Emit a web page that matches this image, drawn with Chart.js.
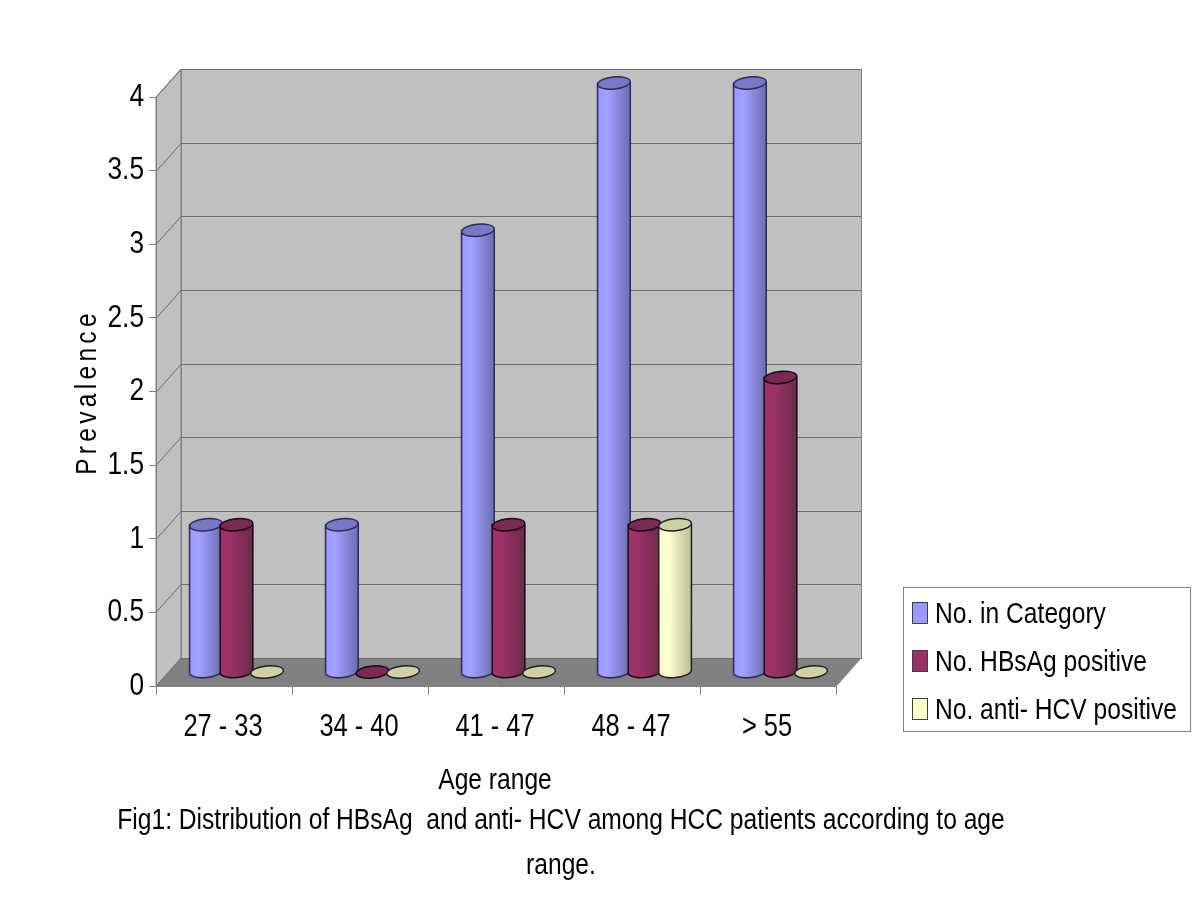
<!DOCTYPE html>
<html>
<head>
<meta charset="utf-8">
<title>Fig1</title>
<script src="https://cdn.jsdelivr.net/npm/chart.js@4/dist/chart.umd.min.js"></script>
<style>
    html, body { margin: 0; padding: 0; background: #fff; }
    canvas { display: block; }
</style>
</head>
<body>
<canvas id="chart" width="1200" height="900"></canvas>
<script>
// Chart values
const ageRanges = ['27 - 33', '34 - 40', '41 - 47', '48 - 47', '> 55'];
const inCategory = [1, 1, 3, 4, 4];
const hbsagPositive = [1, 0, 1, 1, 2];
const antiHcvPositive = [0, 0, 0, 1, 0];
const seriesNames = ['No. in Category', 'No. HBsAg positive', 'No. anti- HCV positive'];
const captionLines = ['Fig1: Distribution of HBsAg  and anti- HCV among HCC patients according to age', 'range.'];

const FONT = '"Liberation Sans", sans-serif';
// The original uses a narrow face, so labels get squeezed by this factor
const NARROW = 0.82;

// Depth of the fake 3D box, back wall is shifted by this much
const DEPTH_X = 25;
const DEPTH_Y = -28;

// Bar shading per series
const shades = [
    { fill: '#9999ff', light: '#a2a2ff', dark: '#6c6cb0', cap: '#7878c4', line: '#2a2a5c' },
    { fill: '#993366', light: '#9c3368', dark: '#6a2a4a', cap: '#7a2952', line: '#1a0a12' },
    { fill: '#ffffcc', light: '#ffffd0', dark: '#bcbc96', cap: '#cfcfa8', line: '#20201a' }
];

function narrowText(ctx, text, x, y) {
    ctx.fillText(text, x, y, ctx.measureText(text).width * NARROW);
}

// Walls and floor go under the axes
function drawBox(chart) {
    const ctx = chart.ctx;
    const area = chart.chartArea;
    const y = chart.scales.y;
    const l = area.left, r = area.right, t = area.top, b = area.bottom;

    ctx.save();
    ctx.lineWidth = 1;
    ctx.strokeStyle = '#808080';

    // side wall
    ctx.fillStyle = '#c0c0c0';
    ctx.beginPath();
    ctx.moveTo(l, t);
    ctx.lineTo(l + DEPTH_X, t + DEPTH_Y);
    ctx.lineTo(l + DEPTH_X, b + DEPTH_Y);
    ctx.lineTo(l, b);
    ctx.closePath();
    ctx.fill();
    ctx.stroke();

    // back wall
    ctx.fillRect(l + DEPTH_X, t + DEPTH_Y, r - l, b - t);
    ctx.strokeRect(l + DEPTH_X + 0.5, t + DEPTH_Y + 0.5, r - l, b - t);

    // floor
    ctx.fillStyle = '#808080';
    ctx.beginPath();
    ctx.moveTo(l, b);
    ctx.lineTo(r, b);
    ctx.lineTo(r + DEPTH_X, b + DEPTH_Y);
    ctx.lineTo(l + DEPTH_X, b + DEPTH_Y);
    ctx.closePath();
    ctx.fill();

    // gridlines run along the side wall and the back wall
    ctx.strokeStyle = '#6e6e6e';
    y.ticks.forEach(tick => {
        const py = Math.round(y.getPixelForValue(tick.value)) + 0.5;
        ctx.beginPath();
        ctx.moveTo(l, py);
        ctx.lineTo(l + DEPTH_X, py + DEPTH_Y);
        ctx.lineTo(r + DEPTH_X, py + DEPTH_Y);
        ctx.stroke();
    });
    ctx.restore();
}

// Turns one bar element into a cylinder
function drawCylinder(ctx, bar, value, shade) {
    const w = bar.width;
    const rx = w / 2;
    const ry = 6;
    const tilt = -0.1;

    ctx.lineWidth = 1.5;
    ctx.strokeStyle = shade.line;

    if (value > 0) {
        const grad = ctx.createLinearGradient(bar.x - rx, 0, bar.x + rx, 0);
        grad.addColorStop(0, shade.fill);
        grad.addColorStop(0.3, shade.light);
        grad.addColorStop(1, shade.dark);
        ctx.fillStyle = grad;
        ctx.beginPath();
        ctx.moveTo(bar.x + rx, bar.y);
        ctx.ellipse(bar.x, bar.base, rx, ry, tilt, 0, Math.PI, false);
        ctx.lineTo(bar.x - rx, bar.y);
        ctx.closePath();
        ctx.fill();
        ctx.stroke();
    }

    // top cap, the only thing left of a zero bar
    ctx.fillStyle = shade.cap;
    ctx.beginPath();
    ctx.ellipse(bar.x, bar.y, rx, ry, tilt, 0, Math.PI * 2);
    ctx.fill();
    ctx.stroke();
}

// Axis labels, title, caption and legend, all in the squeezed face
function drawTexts(chart) {
    const ctx = chart.ctx;
    const x = chart.scales.x;
    const y = chart.scales.y;

    ctx.save();
    ctx.fillStyle = '#000';
    ctx.textBaseline = 'middle';

    ctx.font = '32px ' + FONT;
    ctx.textAlign = 'right';
    y.ticks.forEach(tick => {
        narrowText(ctx, tick.label, 144, y.getPixelForValue(tick.value));
    });

    ctx.font = '31px ' + FONT;
    ctx.textAlign = 'center';
    x.ticks.forEach((tick, i) => {
        narrowText(ctx, tick.label, x.getPixelForTick(i) - 1, 727);
    });

    ctx.font = '30px ' + FONT;
    narrowText(ctx, 'Age range', 495, 781);

    // y title, spaced out like the original
    ctx.save();
    ctx.translate(88, 392);
    ctx.rotate(-Math.PI / 2);
    ctx.scale(NARROW, 1);
    ctx.letterSpacing = '5.2px';
    ctx.fillText('Prevalence', 0, 0);
    ctx.restore();

    // caption
    narrowText(ctx, captionLines[0], 561, 821);
    narrowText(ctx, captionLines[1], 561, 866);

    // legend
    ctx.fillStyle = '#fff';
    ctx.strokeStyle = '#808080';
    ctx.lineWidth = 1;
    ctx.fillRect(903, 587, 287, 144);
    ctx.strokeRect(903.5, 587.5, 287, 144);
    ctx.textAlign = 'left';
    chart.data.datasets.forEach((ds, i) => {
        const cy = 613 + i * 48;
        ctx.fillStyle = ds.backgroundColor;
        ctx.strokeStyle = '#404040';
        ctx.fillRect(912, cy - 11, 15, 21);
        ctx.strokeRect(912.5, cy - 10.5, 15, 21);
        ctx.fillStyle = '#000';
        narrowText(ctx, ds.label, 935, cy + 2);
    });
    ctx.restore();
}

const boxPlugin = {
    id: 'box3d',
    beforeDraw(chart) {
        drawBox(chart);
    },
    beforeDatasetsDraw(chart) {
        // bars stand in the middle of the floor
        chart.ctx.save();
        chart.ctx.translate(DEPTH_X / 2, DEPTH_Y / 2);
    },
    afterDatasetsDraw(chart) {
        const ctx = chart.ctx;
        // left series first so each bar overlaps the one before it
        chart.data.datasets.forEach((ds, d) => {
            chart.getDatasetMeta(d).data.forEach((bar, i) => {
                drawCylinder(ctx, bar, ds.data[i], shades[d]);
            });
        });
        ctx.restore();
    },
    afterDraw(chart) {
        const ctx = chart.ctx;
        const area = chart.chartArea;

        // front right edge of the floor
        ctx.save();
        ctx.strokeStyle = '#808080';
        ctx.lineWidth = 1;
        ctx.beginPath();
        ctx.moveTo(area.right + 0.5, area.bottom);
        ctx.lineTo(area.right + DEPTH_X, area.bottom + DEPTH_Y);
        ctx.stroke();
        ctx.restore();

        drawTexts(chart);
    }
};

new Chart(document.getElementById('chart'), {
    type: 'bar',
    data: {
        labels: ageRanges,
        datasets: [
            { label: seriesNames[0], data: inCategory, backgroundColor: shades[0].fill },
            { label: seriesNames[1], data: hbsagPositive, backgroundColor: shades[1].fill },
            { label: seriesNames[2], data: antiHcvPositive, backgroundColor: shades[2].fill }
        ]
    },
    options: {
        responsive: false,
        animation: false,
        layout: { padding: { left: 40, right: 364, top: 97, bottom: 100 } },
        datasets: { bar: { categoryPercentage: 0.675, barPercentage: 1.07, borderWidth: 0 } },
        plugins: {
            legend: { display: false },
            tooltip: { enabled: false }
        },
        scales: {
            x: {
                afterFit: scale => { scale.height = 114; },
                grid: { drawOnChartArea: false, color: '#808080', tickLength: 9 },
                border: { color: '#808080' },
                ticks: { display: false }
            },
            y: {
                min: 0,
                max: 4,
                afterFit: scale => { scale.width = 116; },
                grid: { drawOnChartArea: false, color: '#808080', tickLength: 7 },
                border: { color: '#808080' },
                ticks: {
                    display: false,
                    stepSize: 0.5,
                    callback: value => String(value)
                }
            }
        }
    },
    plugins: [boxPlugin]
});
</script>
</body>
</html>
